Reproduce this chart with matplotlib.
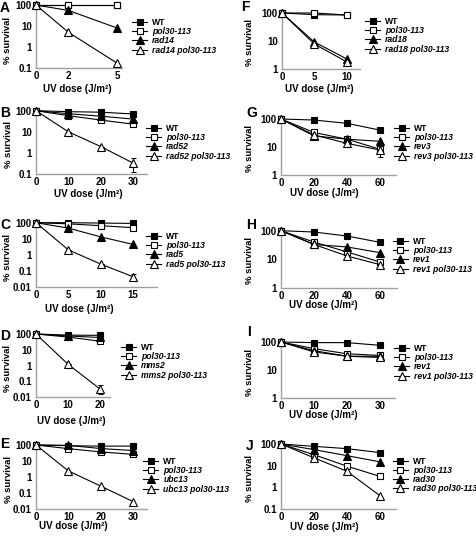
import matplotlib
matplotlib.use('Agg')
import matplotlib.pyplot as plt
from matplotlib.ticker import FixedLocator, FuncFormatter, NullLocator

plt.rcParams['font.family'] = ['Liberation Sans', 'DejaVu Sans']
plt.rcParams['font.weight'] = 'bold'

W, H = 477, 537

# ---------------- data ----------------
dose_A = [0, 2, 5]
A_wt = [100, 100, 100]
A_pol = [100, 100, 100]
A_mut = [100, 55, 8]
A_dbl = [100, 5, 0.17]

dose_B = [0, 10, 20, 30]
B_wt = [100, 90, 85, 70]
B_pol = [100, 58, 36, 23]
B_mut = [100, 72, 55, 40]
B_dbl = [100, 10, 2, 0.33]
B_dbl_lo = [100, 10, 2, 0.12]
B_dbl_hi = [100, 10, 2, 0.55]

dose_C = [0, 5, 10, 15]
C_wt = [100, 100, 95, 90]
C_pol = [100, 85, 65, 49]
C_mut = [100, 46, 13, 4.4]
C_dbl = [100, 2, 0.26, 0.042]
C_dbl_lo = [100, 2, 0.26, 0.025]
C_dbl_hi = [100, 2, 0.26, 0.065]

dose_D = [0, 10, 20]
D_wt = [100, 85, 82]
D_pol = [100, 64, 35]
D_mut = [100, 75, 60]
D_dbl = [100, 1.2, 0.032]
D_dbl_lo = [100, 1.2, 0.015]
D_dbl_hi = [100, 1.2, 0.06]

dose_E = [0, 10, 20, 30]
E_wt = [100, 90, 85, 85]
E_pol = [100, 59, 37, 26]
E_mut = [100, 95, 60, 45]
E_dbl = [100, 2.4, 0.27, 0.029]

dose_F = [0, 5, 10]
F_wt = [100, 87, 85]
F_pol = [100, 100, 85]
F_mut = [100, 9.2, 2.3]
F_dbl = [100, 7.8, 1.8]

dose_G = [0, 20, 40, 60]
G_wt = [100, 92, 70, 40]
G_pol = [100, 33, 19, 8.3]
G_pol_lo = [100, 33, 19, 4.5]
G_pol_hi = [100, 33, 19, 12]
G_mut = [100, 25, 19, 16]
G_dbl = [100, 27, 13.5, 7.8]

dose_H = [0, 20, 40, 60]
H_wt = [100, 90, 65, 39]
H_pol = [100, 40, 18, 8]
H_mut = [100, 33, 27, 17]
H_dbl = [100, 33, 13, 6.5]

dose_I = [0, 10, 20, 30]
I_wt = [100, 95, 95, 76]
I_pol = [100, 58, 38, 33]
I_mut = [100, 49, 31, 31]
I_dbl = [100, 44, 31, 28]

dose_J = [0, 20, 40, 60]
J_wt = [100, 78, 61, 40]
J_pol = [100, 32, 9.5, 3.2]
J_mut = [100, 55, 29, 15]
J_dbl = [100, 23, 5.5, 0.41]

yticks_all = [0.01, 0.1, 1, 10, 100]

# ---------------- figure ----------------
fig = plt.figure(figsize=(W / 100, H / 100), dpi=100)

SPINE = '#a0a0a0'
LW = 0.8


def px_axes(left, right, top, bottom):
    return fig.add_axes([left / W, 1 - bottom / H, (right - left) / W, (bottom - top) / H])


def panel(letter, letter_xy, rect, xlim, ylim, xticks, dose, wt, pol, mut, dbl,
          mutname, legend_xy, xlabel_xy, ylabel_xy, err=None):
    left, right, top, bottom = rect
    ax = px_axes(left, right, top, bottom)
    ax.set_yscale('log')
    ax.set_xlim(*xlim)
    ax.set_ylim(*ylim)
    ax.plot(dose, wt, '-s', color='black', mfc='black', mec='black', ms=4.6,
            lw=LW, mew=0.8, clip_on=False, label='WT', zorder=3)
    ax.plot(dose, pol, '-s', color='black', mfc='white', mec='black', ms=4.6,
            lw=LW, mew=0.8, clip_on=False, label='pol30-113', zorder=4)
    ax.plot(dose, mut, '-^', color='black', mfc='black', mec='black', ms=5.2,
            lw=LW, mew=0.8, clip_on=False, label=mutname, zorder=5)
    ax.plot(dose, dbl, '-^', color='black', mfc='white', mec='black', ms=5.2,
            lw=LW, mew=0.8, clip_on=False, label=mutname + ' pol30-113', zorder=6)
    if err is not None:
        for vals, lo, hi in err:
            ylo = [v - l for v, l in zip(vals, lo)]
            yhi = [h - v for v, h in zip(vals, hi)]
            ax.errorbar(dose, vals, yerr=[ylo, yhi], fmt='none', ecolor='black',
                        elinewidth=0.7, capsize=1.8, capthick=0.7, zorder=2,
                        clip_on=False)
    for s in ['top', 'right']:
        ax.spines[s].set_visible(False)
    for s in ['left', 'bottom']:
        ax.spines[s].set_color(SPINE)
        ax.spines[s].set_linewidth(1.0)
    ax.xaxis.set_major_locator(FixedLocator(xticks))
    yt = [t for t in yticks_all if ylim[0] <= t <= ylim[1]]
    ax.yaxis.set_major_locator(FixedLocator(yt))
    ax.yaxis.set_minor_locator(NullLocator())
    ax.yaxis.set_major_formatter(FuncFormatter(lambda v, p: '{:g}'.format(v)))
    ax.tick_params(axis='both', length=0, labelsize=7, pad=3)
    ax.tick_params(axis='x', pad=2.5)
    for lab in ax.get_xticklabels() + ax.get_yticklabels():
        lab.set_fontweight('bold')
    w = right - left
    h = bottom - top
    ax.set_xlabel('UV dose (J/m²)', fontsize=7, fontweight='bold')
    ax.xaxis.set_label_coords((xlabel_xy[0] - left) / w, (bottom - xlabel_xy[1]) / h)
    ax.xaxis.label.set_va('center')
    ax.set_ylabel('% survival', fontsize=6.8, fontweight='bold')
    ax.yaxis.set_label_coords((ylabel_xy[0] - left) / w, (bottom - ylabel_xy[1]) / h)
    ax.yaxis.label.set_va('center')
    leg = ax.legend(loc='upper left', bbox_to_anchor=(legend_xy[0] / W, 1 - legend_xy[1] / H),
                    bbox_transform=fig.transFigure, frameon=False, borderpad=0,
                    borderaxespad=0, handlelength=1.75, handletextpad=0.6,
                    labelspacing=0.02, prop={'size': 6.2, 'weight': 'bold'})
    for t in leg.get_texts()[1:]:
        t.set_style('italic')
    fig.text(letter_xy[0] / W, 1 - letter_xy[1] / H, letter, fontsize=10,
             fontweight='bold', ha='left', va='top')
    return ax


panel('A', (0, 1), (36, 122, 5, 68), (0, 5.3), (0.1, 100), dose_A, dose_A,
      A_wt, A_pol, A_mut, A_dbl, 'rad14', (132, 18), (77, 89), (8, 40))
panel('B', (0, 106), (36, 147, 110.7, 174), (0, 34.3), (0.1, 100), dose_B, dose_B,
      B_wt, B_pol, B_mut, B_dbl, 'rad52', (146, 124), (88, 194), (8, 145),
      err=[(B_dbl, B_dbl_lo, B_dbl_hi)])
panel('C', (0, 218), (36, 157, 222.7, 286.7), (0, 18.7), (0.01, 100), dose_C, dose_C,
      C_wt, C_pol, C_mut, C_dbl, 'rad5', (146, 232), (79, 309), (8, 257),
      err=[(C_dbl, C_dbl_lo, C_dbl_hi)])
panel('D', (0, 329), (36, 110, 334, 397), (0, 23.1), (0.01, 100), dose_D, dose_D,
      D_wt, D_pol, D_mut, D_dbl, 'mms2', (121, 343), (71, 421), (8, 368),
      err=[(D_dbl, D_dbl_lo, D_dbl_hi)])
panel('E', (0, 437), (36, 147, 445, 509), (0, 34.3), (0.01, 100), dose_E, dose_E,
      E_wt, E_pol, E_mut, E_dbl, 'ubc13', (143, 457), (73, 526), (8, 479))
panel('F', (241, 0), (282, 360, 13, 69), (0, 12.06), (1, 100), dose_F, dose_F,
      F_wt, F_pol, F_mut, F_dbl, 'rad18', (365, 17), (319, 89), (250, 43))
panel('G', (246, 106), (281, 396, 119, 175), (0, 69.7), (1, 100), dose_G, dose_G,
      G_wt, G_pol, G_mut, G_dbl, 'rev3', (394, 124), (324, 193), (250, 149),
      err=[(G_pol, G_pol_lo, G_pol_hi)])
panel('H', (246, 218), (281, 397, 230.7, 288), (0, 70), (1, 100), dose_H, dose_H,
      H_wt, H_pol, H_mut, H_dbl, 'rev1', (392.7, 237), (323, 305), (250, 261))
panel('I', (247, 325), (281, 395, 342, 398), (0, 34.5), (1, 100), dose_I, dose_I,
      I_wt, I_pol, I_mut, I_dbl, 'rev1', (394, 344), (323, 415), (250, 372))
panel('J', (246, 439), (281, 396, 444, 509), (0, 69.7), (0.1, 100), dose_J, dose_J,
      J_wt, J_pol, J_mut, J_dbl, 'rad30', (392.7, 456.7), (324, 527), (250, 479))

fig.savefig('out.png', dpi=100)
